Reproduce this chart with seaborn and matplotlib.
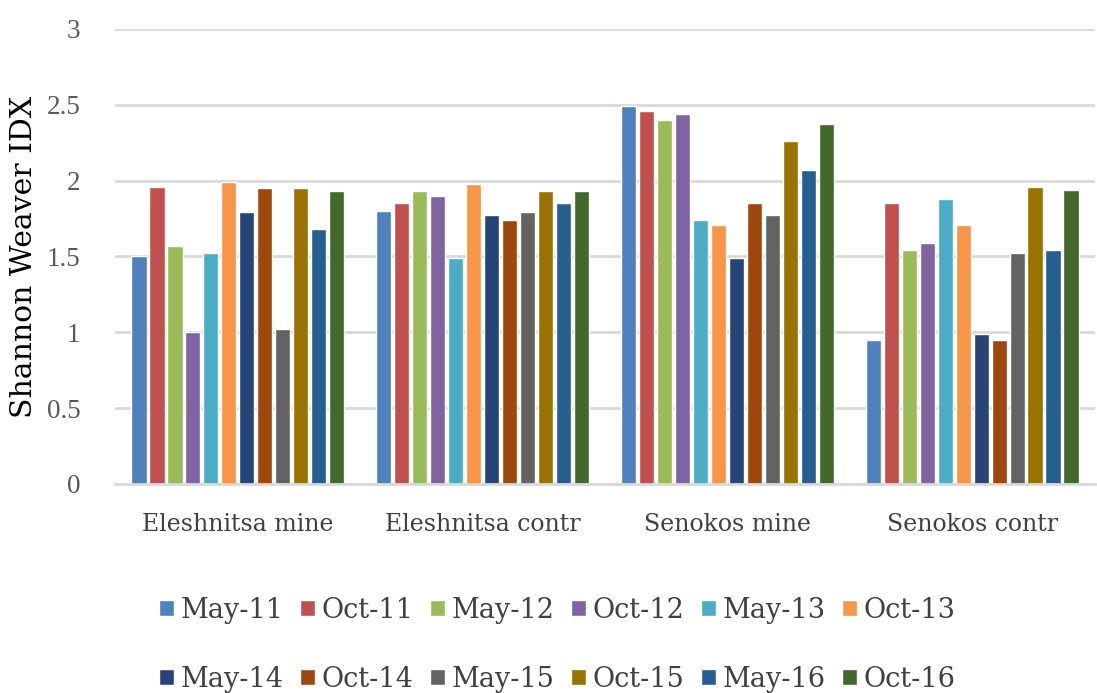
import matplotlib
matplotlib.use("Agg")
import matplotlib.pyplot as plt
import seaborn as sns
import pandas as pd

sites = ["Eleshnitsa mine", "Eleshnitsa contr", "Senokos mine", "Senokos contr"]
dates = ["May-11", "Oct-11", "May-12", "Oct-12", "May-13", "Oct-13",
         "May-14", "Oct-14", "May-15", "Oct-15", "May-16", "Oct-16"]

eleshnitsa_mine = [1.50, 1.96, 1.57, 1.00, 1.52, 1.99, 1.79, 1.95, 1.02, 1.95, 1.68, 1.93]
eleshnitsa_contr = [1.80, 1.85, 1.93, 1.90, 1.49, 1.98, 1.77, 1.74, 1.79, 1.93, 1.85, 1.93]
senokos_mine = [2.49, 2.46, 2.40, 2.44, 1.74, 1.71, 1.49, 1.85, 1.77, 2.26, 2.07, 2.37]
senokos_contr = [0.95, 1.85, 1.54, 1.59, 1.88, 1.71, 0.99, 0.95, 1.52, 1.96, 1.54, 1.94]

colors = ["#4F81BD", "#C0504D", "#9BBB59", "#8064A2", "#4BACC6", "#F79646",
          "#264478", "#9E480E", "#636363", "#997300", "#255E91", "#43682B"]

values = [eleshnitsa_mine, eleshnitsa_contr, senokos_mine, senokos_contr]
rows = []
for site, vals in zip(sites, values):
    for d, v in zip(dates, vals):
        rows.append({"site": site, "date": d, "value": v})
df = pd.DataFrame(rows)

sns.set_theme(style="white")
plt.rcParams["font.family"] = ["DejaVu Serif"]

fig = plt.figure(figsize=(10.97, 6.93), dpi=100)
ax = fig.add_axes([0.105, 0.3016, 0.893, 0.6567])

sns.barplot(data=df, x="site", y="value", hue="date", order=sites,
            hue_order=dates, palette=colors, width=0.88, gap=0.14,
            saturation=1, ax=ax, legend=True)

ax.set_ylim(0, 3)
ax.set_yticks([0, 0.5, 1, 1.5, 2, 2.5, 3])
ax.set_yticklabels(["0", "0.5", "1", "1.5", "2", "2.5", "3"],
                   family="Liberation Serif")
ax.yaxis.grid(True, color="#D9D9D9", linewidth=2)
ax.set_axisbelow(True)
for s in ["top", "right", "left"]:
    ax.spines[s].set_visible(False)
ax.spines["bottom"].set_color("#D9D9D9")
ax.spines["bottom"].set_linewidth(2)
ax.tick_params(axis="y", length=0, pad=25, labelsize=19.5, labelcolor="#595959")
ax.tick_params(axis="x", length=0, pad=21, labelsize=17, labelcolor="#404040")
ax.set_xlabel("")
ax.set_ylabel("Shannon Weaver IDX", fontsize=21.5, color="#000000")
ax.yaxis.set_label_coords(-0.079, 0.5)

handles, labels = ax.get_legend_handles_labels()
ax.get_legend().remove()
# two rows of six, filled left to right
order = [i + 6 * r for i in range(6) for r in range(2)]
fig.legend([handles[k] for k in order], [labels[k] for k in order],
           loc="lower center", bbox_to_anchor=(0.508, -0.035),
           ncol=6, frameon=False, fontsize=19.5, labelcolor="#404040",
           handlelength=0.55, handleheight=0.55, handletextpad=0.25,
           columnspacing=0.6, labelspacing=1.55)

fig.savefig("out.png", dpi=100)
